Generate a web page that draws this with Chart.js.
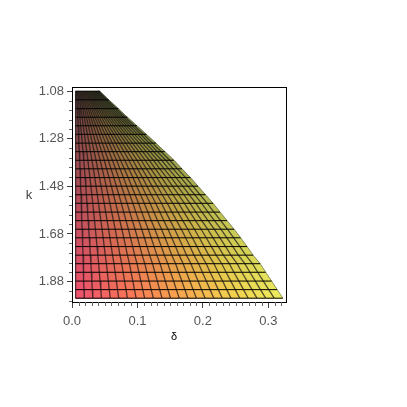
<!DOCTYPE html>
<html>
<head>
<meta charset="utf-8">
<script src="https://cdn.jsdelivr.net/npm/chart.js@4"></script>
<style>
body { margin: 0; background: #fff; }
</style>
</head>
<body>
<canvas id="grafico" width="407" height="407"></canvas>
<script>
// Values
const kRows = [1.08, 1.116, 1.153, 1.189, 1.225, 1.261, 1.298, 1.334, 1.37, 1.406, 1.443, 1.479, 1.515,
    1.551, 1.588, 1.624, 1.66, 1.696, 1.733, 1.769, 1.805, 1.841, 1.878, 1.914, 1.95];
const deltaEdge = [0.0424, 0.0562, 0.0707, 0.0845, 0.0991, 0.1136, 0.1282, 0.142, 0.1557, 0.168, 0.181, 0.1925, 0.204,
    0.2155, 0.2262, 0.2369, 0.2477, 0.2576, 0.2675, 0.2767, 0.2875, 0.2959, 0.305, 0.3135, 0.3222];
const deltaStart = 0.0055;
const columnShares = [0, 0.042, 0.083, 0.125, 0.167, 0.208, 0.25, 0.292, 0.333, 0.375, 0.417, 0.458, 0.5,
    0.542, 0.583, 0.625, 0.667, 0.708, 0.75, 0.792, 0.833, 0.875, 0.917, 0.958, 1];
const xTicks = [0, 0.1, 0.2, 0.3];
const yTicks = [1.08, 1.28, 1.48, 1.68, 1.88];
const xMinorTicks = [0.01, 0.02, 0.03, 0.04, 0.05, 0.06, 0.07, 0.08, 0.09, 0.11, 0.12, 0.13, 0.14, 0.15, 0.16,
    0.17, 0.18, 0.19, 0.21, 0.22, 0.23, 0.24, 0.25, 0.26, 0.27, 0.28, 0.29, 0.31, 0.32];
const yMinorTicks = [1.12, 1.16, 1.2, 1.24, 1.32, 1.36, 1.4, 1.44, 1.52, 1.56, 1.6, 1.64, 1.72, 1.76, 1.8, 1.84, 1.92, 1.96];

// Colour along the bottom row, left to right
const bottomColours = [[240, 80, 110], [250, 116, 88], [250, 165, 78], [245, 208, 78], [238, 238, 95]];
// Colour added towards the top, where the surface goes grey-green
const topTint = [32, 42, 30];

function node(r, c) {
    return { x: deltaStart + columnShares[c] * (deltaEdge[r] - deltaStart), y: kRows[r] };
}

function cellColour(r, c) {
    const pos = (c + 0.5) / (columnShares.length - 1) * (bottomColours.length - 1);
    const i = Math.floor(pos);
    const t = pos - i;
    const altura = (r + 0.5) / (kRows.length - 1);
    const shade = 0.25 + 0.75 * Math.pow(altura, 0.8);
    const rgb = [0, 1, 2].map(n => Math.round(
        (bottomColours[i][n] * (1 - t) + bottomColours[i + 1][n] * t) * shade + topTint[n] * (1 - altura)));
    return "rgb(" + rgb.join(",") + ")";
}

let datasets = [];

// Cells
for (let r = 0; r < kRows.length - 1; r++) {
    for (let c = 0; c < columnShares.length - 1; c++) {
        const cor = cellColour(r, c);
        datasets.push({
            data: [node(r, c), node(r, c + 1), node(r + 1, c + 1), node(r + 1, c), node(r, c)],
            showLine: true,
            fill: "shape",
            backgroundColor: cor,
            borderColor: cor,
            borderWidth: 1,
            pointRadius: 0,
            order: 3
        });
    }
}

// Mesh lines, the last column is only a faint edge
columnShares.forEach((s, c) => {
    const ultima = c === columnShares.length - 1;
    datasets.push({
        data: kRows.map((k, r) => node(r, c)),
        showLine: true,
        borderColor: ultima ? "rgba(90,100,100,0.6)" : "rgba(20,20,20,0.7)",
        borderWidth: ultima ? 1 : 1.3,
        pointRadius: 0,
        order: 2
    });
});
kRows.forEach((k, r) => {
    datasets.push({
        data: columnShares.map((s, c) => node(r, c)),
        showLine: true, borderColor: "#000", borderWidth: 1, pointRadius: 0, order: 1
    });
});

// Box, minor ticks and the two axis letters
const moldura = {
    id: "moldura",
    afterDraw(chart) {
        const { ctx, chartArea: a, scales } = chart;
        ctx.save();
        ctx.strokeStyle = "#000";
        ctx.lineWidth = 1;
        ctx.strokeRect(Math.round(a.left) + 0.5, Math.round(a.top) + 0.5, Math.round(a.width), Math.round(a.height));
        ctx.strokeStyle = "#666";
        ctx.beginPath();
        xMinorTicks.forEach(v => {
            const x = Math.round(scales.x.getPixelForValue(v)) + 0.5;
            ctx.moveTo(x, a.bottom);
            ctx.lineTo(x, a.bottom + 4);
        });
        yMinorTicks.forEach(v => {
            const y = Math.round(scales.y.getPixelForValue(v)) + 0.5;
            ctx.moveTo(a.left, y);
            ctx.lineTo(a.left - 3, y);
        });
        ctx.stroke();
        ctx.textAlign = "center";
        ctx.textBaseline = "middle";
        ctx.fillStyle = "#000";
        ctx.font = "11px 'Liberation Sans'";
        ctx.fillText("δ", 174, 337);
        ctx.fillStyle = "#444";
        ctx.font = "13px 'Liberation Sans'";
        ctx.fillText("k", 29, 195);
        ctx.restore();
    }
};

new Chart(document.getElementById("grafico"), {
    type: "scatter",
    data: { datasets: datasets },
    plugins: [moldura],
    options: {
        responsive: false,
        animation: false,
        layout: { padding: { left: 0, right: 121, top: 87, bottom: 0 } },
        plugins: { legend: { display: false }, tooltip: { enabled: false } },
        scales: {
            x: {
                type: "linear",
                min: 0,
                max: 0.327,
                afterFit(s) { s.height = 105; },
                afterBuildTicks(s) { s.ticks = xTicks.map(v => ({ value: v })); },
                grid: { drawOnChartArea: false, tickLength: 6, tickColor: "#444" },
                border: { color: "#000" },
                ticks: {
                    color: "#555",
                    font: { family: "'Liberation Sans'", size: 13 },
                    padding: 6,
                    maxRotation: 0,
                    callback: v => v.toFixed(1)
                }
            },
            y: {
                type: "linear",
                reverse: true,
                min: 1.062,
                max: 1.966,
                afterFit(s) { s.width = 72; },
                afterBuildTicks(s) { s.ticks = yTicks.map(v => ({ value: v })); },
                grid: { drawOnChartArea: false, tickLength: 5, tickColor: "#444" },
                border: { color: "#000" },
                ticks: {
                    color: "#555",
                    font: { family: "'Liberation Sans'", size: 13 },
                    padding: 3,
                    callback: v => v.toFixed(2)
                }
            }
        }
    }
});
</script>
</body>
</html>
